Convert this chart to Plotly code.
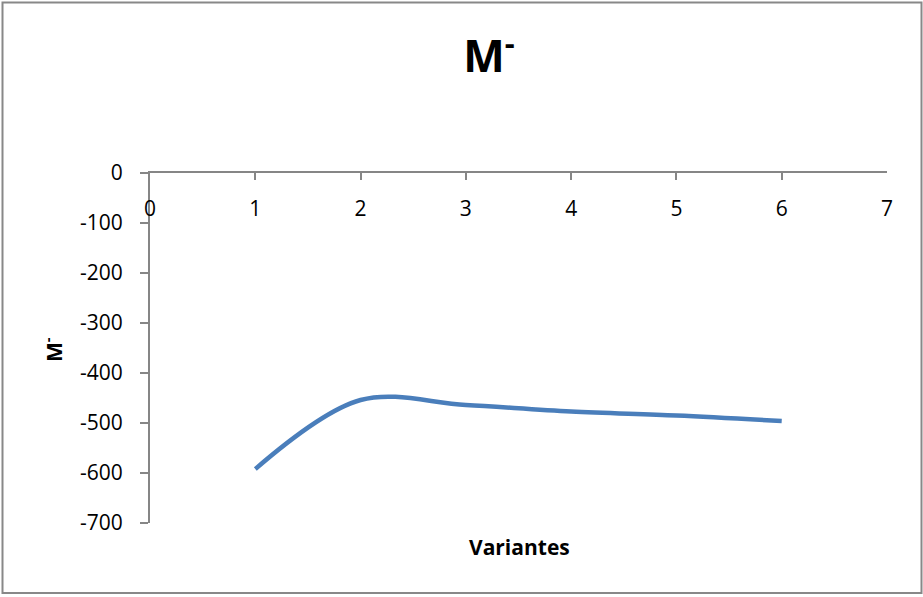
import plotly.graph_objects as go

x_vals = [1, 2, 3, 4, 5, 6]
m_vals = [-592, -454, -464, -477, -485, -496]
y_ticks = [0, -100, -200, -300, -400, -500, -600, -700]
y_tick_text = ["0", "-100", "-200", "-300", "-400", "-500", "-600", "-700"]
x_ticks = [0, 1, 2, 3, 4, 5, 6, 7]
x_tick_text = ["0", "1", "2", "3", "4", "5", "6", "7"]

W, H = 923, 597
L, R, T, B = 150, 36, 173, 74
pw, ph = W - L - R, H - T - B

def px_x(p):
    return (p - L) / pw

def px_y(p):
    return (H - B - p) / ph

font = "Open Sans, sans-serif"
axis_col = "#868686"
tick_font = dict(size=21, family=font, color="black")

fig = go.Figure()
fig.add_trace(go.Scatter(
    x=x_vals, y=m_vals, mode="lines",
    line=dict(color="#4A7EBB", width=4.5, shape="spline", smoothing=1.0),
    showlegend=False, hoverinfo="x+y"))
# invisible trace bound to the label axis
fig.add_trace(go.Scatter(x=[x_vals[0]], y=[m_vals[0]], xaxis="x2", mode="markers",
                         marker=dict(opacity=0), showlegend=False, hoverinfo="skip"))

fig.update_layout(
    width=W, height=H,
    margin=dict(l=L, r=R, t=T, b=B),
    paper_bgcolor="white", plot_bgcolor="white",
    font=dict(family=font, size=18, color="black"),
    title=dict(text="<b>M<sup>-</sup></b>", xref="container", yref="container",
               x=489 / W, xanchor="center",
               y=1 - 57 / H, yanchor="middle",
               font=dict(size=44, family=font, color="black")),
    xaxis=dict(range=[0, 7], tickvals=x_ticks, side="top",
               showline=True, linecolor=axis_col, linewidth=2,
               ticks="inside", ticklen=7, tickwidth=2, tickcolor=axis_col,
               showticklabels=False,
               showgrid=False, zeroline=False),
    xaxis2=dict(range=[0, 7], tickvals=x_ticks, ticktext=x_tick_text,
                overlaying="x", anchor="free", position=px_y(194), side="bottom",
                showline=False, ticks="", showgrid=False, zeroline=False,
                tickfont=tick_font),
    yaxis=dict(range=[-700, 0], tickvals=y_ticks, ticktext=y_tick_text,
               showline=True, linecolor=axis_col, linewidth=2,
               ticks="outside", ticklen=8, tickwidth=2, tickcolor=axis_col,
               showgrid=False, zeroline=False, ticklabelstandoff=13,
               tickfont=tick_font),
    shapes=[dict(type="rect", xref="paper", yref="paper",
                 x0=px_x(2.5), x1=px_x(921.5), y0=px_y(593), y1=px_y(2.5),
                 line=dict(color="#888888", width=2), fillcolor="rgba(0,0,0,0)")],
    annotations=[
        dict(text="<b>Variantes</b>", xref="paper", yref="paper",
             x=px_x(519), y=px_y(547), xanchor="center", yanchor="middle",
             showarrow=False, font=dict(size=21, family=font, color="black")),
        dict(text="<b>M<sup>-</sup></b>", xref="paper", yref="paper",
             x=px_x(52), y=px_y(350), xanchor="center", yanchor="middle",
             textangle=-90, showarrow=False,
             font=dict(size=21, family=font, color="black")),
    ],
)

fig.write_html("out.html")
